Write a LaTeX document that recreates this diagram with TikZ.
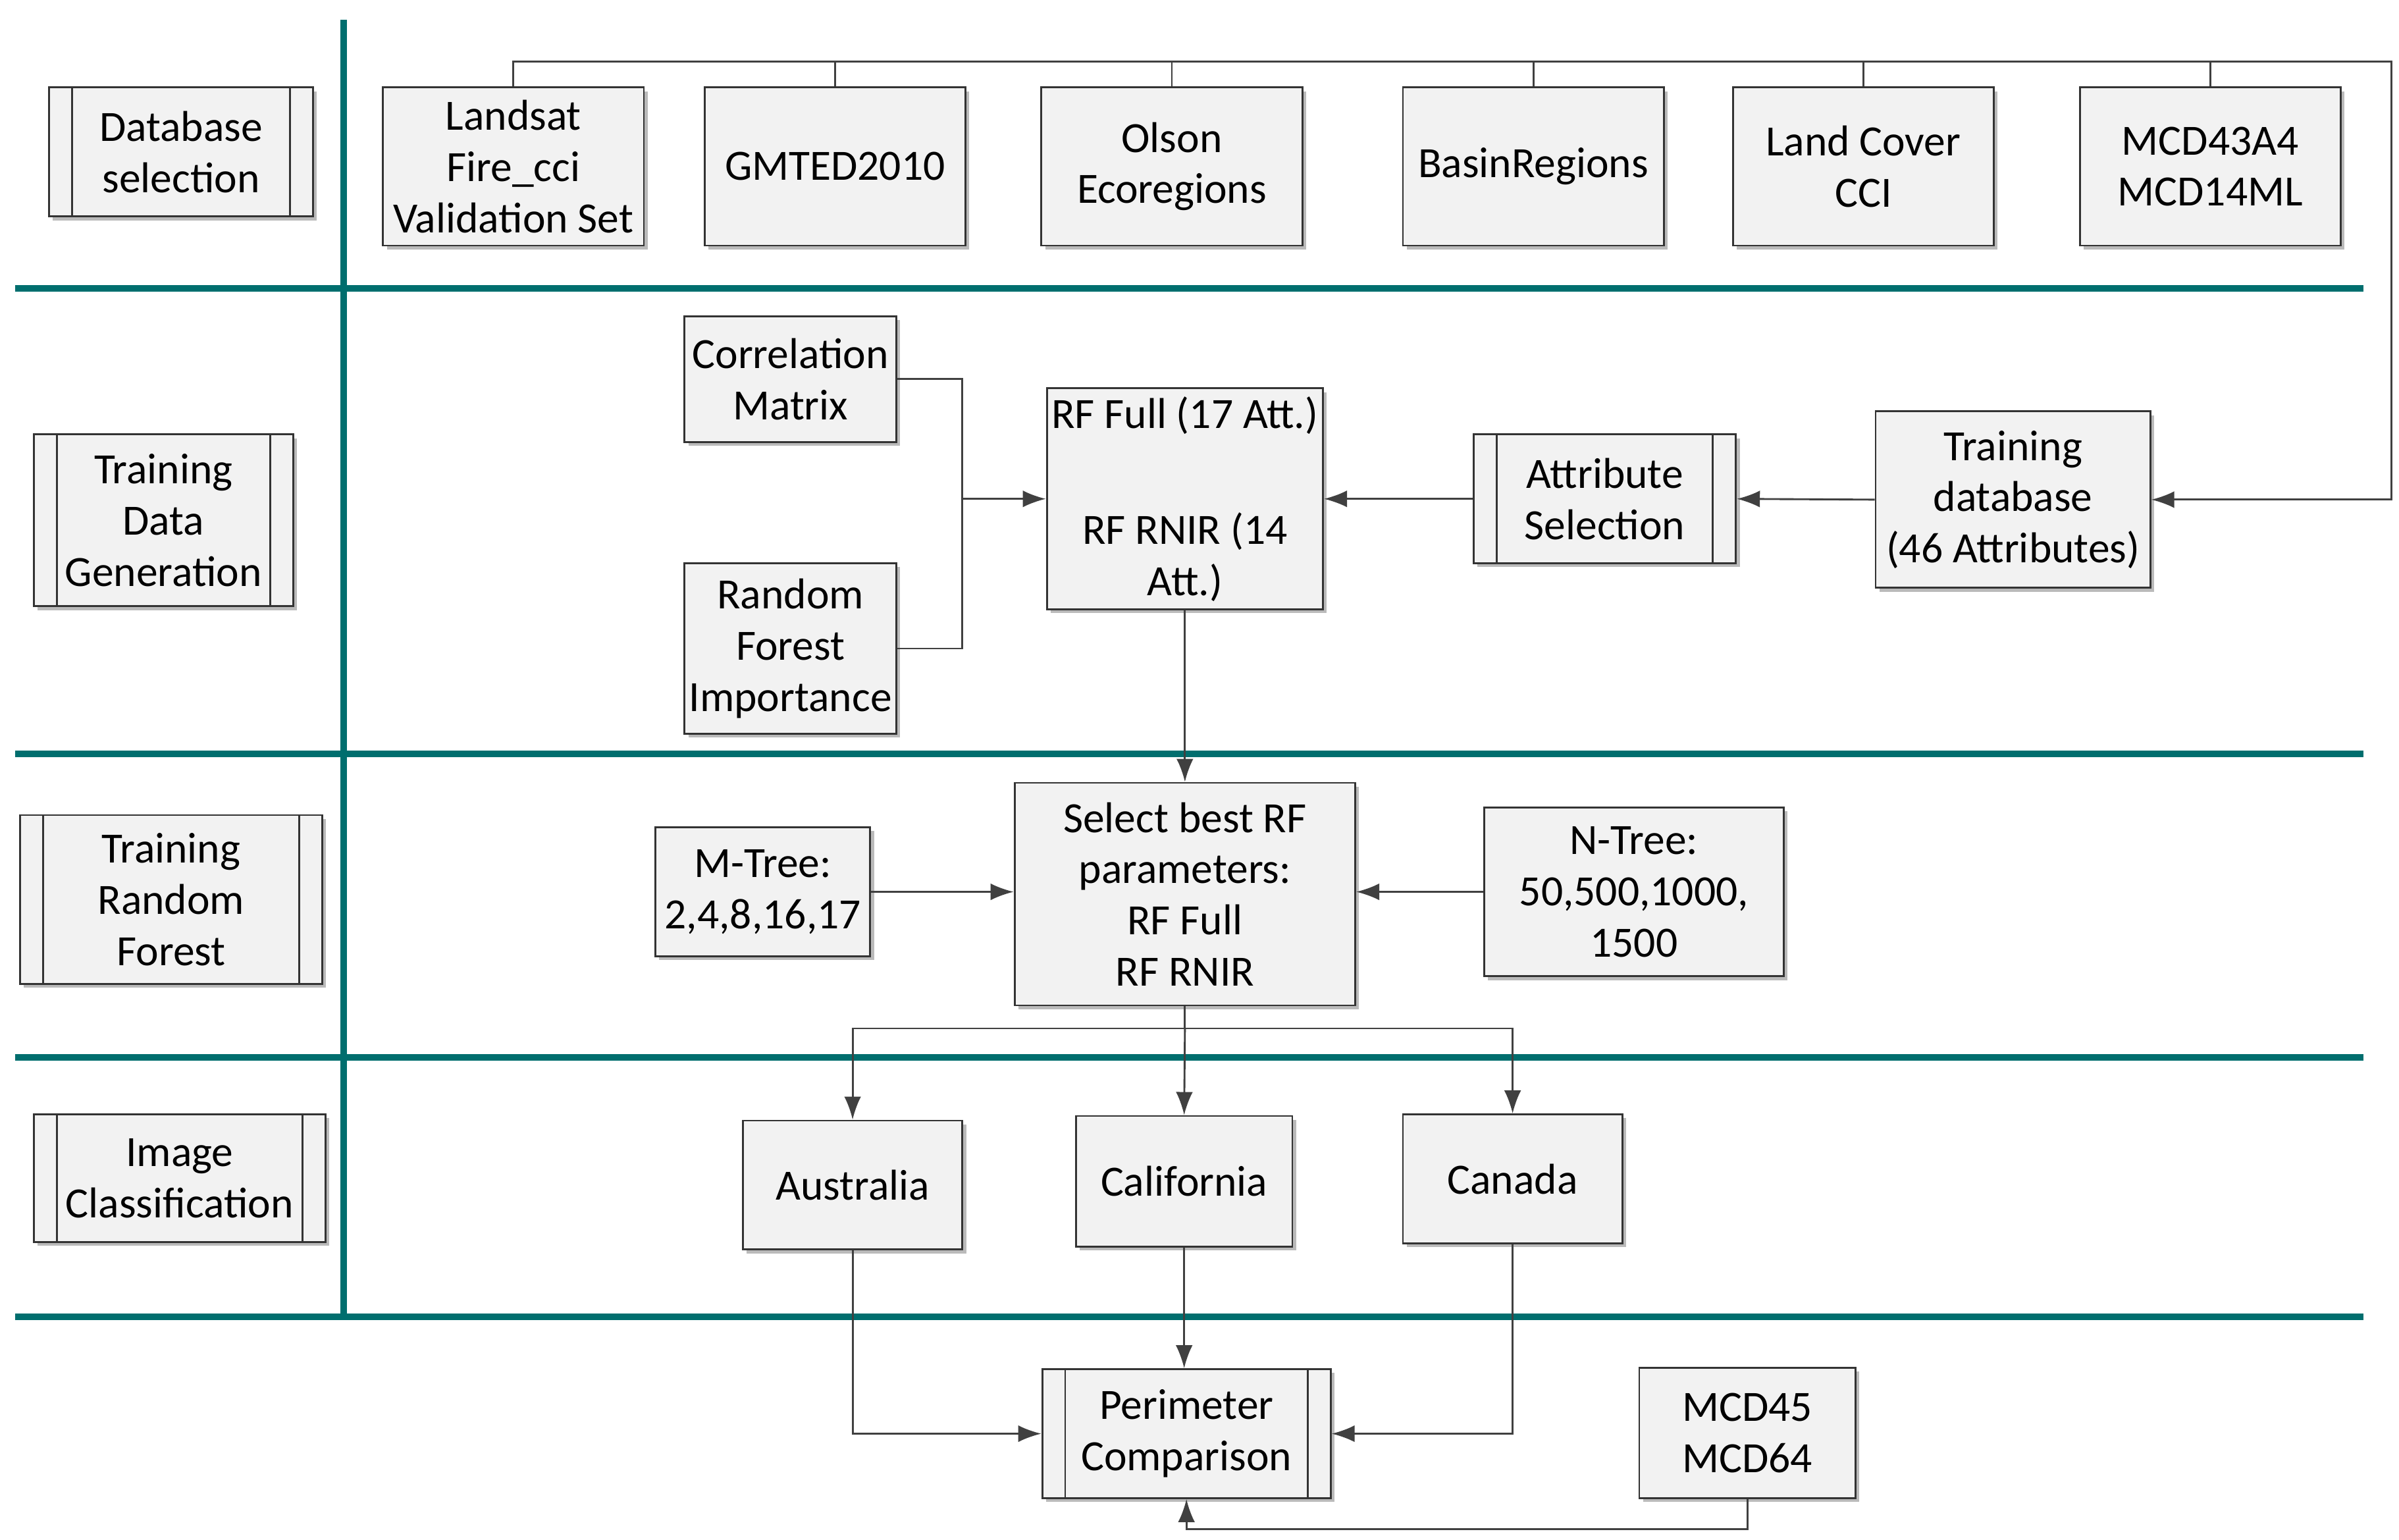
\documentclass[tikz,border=0pt]{standalone}
\usepackage{fontspec}
\setmainfont{Carlito}
\usetikzlibrary{arrows.meta,shadows}
\definecolor{lane}{RGB}{0,110,110}
\definecolor{boxfill}{RGB}{242,242,242}
\tikzset{
  box/.style={draw=black!80, fill=boxfill, line width=0.7pt, align=center, inner sep=0pt,
    drop shadow={shadow xshift=0.05cm, shadow yshift=-0.05cm, fill=black!45, opacity=0.6},
    font=\fontsize{16}{19}\selectfont},
  proc/.style={box, path picture={
    \draw[black!80, line width=0.7pt] ([xshift=0.3cm]path picture bounding box.north west) -- ([xshift=0.3cm]path picture bounding box.south west);
    \draw[black!80, line width=0.7pt] ([xshift=-0.3cm]path picture bounding box.north east) -- ([xshift=-0.3cm]path picture bounding box.south east);}},
  link/.style={draw=black!75, line width=0.7pt},
  arr/.style={link, -{Latex[length=0.3cm,width=0.22cm]}},
  sep/.style={draw=lane, line width=2.4pt}
}
\begin{document}
\begin{tikzpicture}[x=0.02cm,y=-0.02cm]
\useasboundingbox (0,0) rectangle (1563,1003);
% lanes
\foreach \y in {188,491,689,858}
  \draw[sep] (10,\y) -- (1540,\y);
\draw[sep] (224,13) -- (224,858);

% lane titles
\node[proc, minimum width=3.44cm, minimum height=1.68cm] (dbsel) at (118,99) {Database\\selection};
\node[proc, minimum width=3.38cm, minimum height=2.24cm] (tdgen) at (106.5,339) {Training\\Data\\Generation};
\node[proc, minimum width=3.94cm, minimum height=2.2cm] (trf) at (111.5,586) {Training\\Random\\Forest};
\node[proc, minimum width=3.8cm, minimum height=1.66cm] (imgcl) at (117,767.5) {Image\\Classification};

% data sources
\node[box, minimum width=3.4cm, minimum height=2.06cm] (landsat) at (334.5,108.5) {Landsat\\Fire\_cci\\Validation Set};
\node[box, minimum width=3.4cm, minimum height=2.06cm] (gmted) at (544,108.5) {GMTED2010};
\node[box, minimum width=3.4cm, minimum height=2.06cm] (olson) at (763.5,108.5) {Olson\\Ecoregions};
\node[box, minimum width=3.4cm, minimum height=2.06cm] (basin) at (999,108.5) {BasinRegions};
\node[box, minimum width=3.4cm, minimum height=2.06cm] (lccci) at (1214,108.5) {Land Cover\\CCI};
\node[box, minimum width=3.4cm, minimum height=2.06cm] (mcd43) at (1440,108.5) {MCD43A4\\MCD14ML};

% training data
\node[box, minimum width=2.76cm, minimum height=1.64cm] (corr) at (515,247) {Correlation\\Matrix};
\node[box, minimum width=2.76cm, minimum height=2.22cm] (rfimp) at (515,422.5) {Random\\Forest\\Importance};
\node[box, minimum width=3.6cm, minimum height=2.88cm] (rffull) at (772,325) {RF Full (17 Att.)\\[1.5em]RF RNIR (14\\Att.)};
\node[proc, minimum width=3.42cm, minimum height=1.68cm] (attsel) at (1045.5,325) {Attribute\\Selection};
\node[box, minimum width=3.58cm, minimum height=2.3cm] (tdb) at (1311.5,325.5) {Training\\database\\(46 Attributes)};

% random forest
\node[box, minimum width=2.8cm, minimum height=1.68cm] (mtree) at (497,581) {M-Tree:\\2,4,8,16,17};
\node[box, minimum width=4.44cm, minimum height=2.9cm] (best) at (772,582.5) {Select best RF\\parameters:\\RF Full\\RF RNIR};
\node[box, minimum width=3.9cm, minimum height=2.2cm] (ntree) at (1064.5,581) {N-Tree:\\50,500,1000,\\1500};

% classification
\node[box, minimum width=2.86cm, minimum height=1.68cm] (aus) at (555.5,772) {Australia};
\node[box, minimum width=2.82cm, minimum height=1.7cm] (cal) at (771.5,769.5) {California};
\node[box, minimum width=2.86cm, minimum height=1.68cm] (can) at (985.5,768) {Canada};

% comparison
\node[proc, minimum width=3.76cm, minimum height=1.68cm] (perim) at (773,934) {Perimeter\\Comparison};
\node[box, minimum width=2.82cm, minimum height=1.7cm] (mcd45) at (1138.5,933.5) {MCD45\\MCD64};

% connectors
\coordinate (bus) at (1558,40);
\draw[arr] (landsat.north) |- (bus) |- (tdb.east);
\foreach \n in {gmted,olson,basin,lccci,mcd43}
  \draw[link] (\n.north) -- (\n.north |- bus);
\coordinate (join) at (627,325);
\draw[link] (corr.east) -| (join) |- (rfimp.east);
\draw[arr] (join) -- (rffull.west);
\draw[arr] (tdb.west) -- (attsel.east);
\draw[arr] (attsel.west) -- (rffull.east);
\draw[arr] (rffull.south) -- (best.north);
\draw[arr] (mtree.east) -- (best.west |- mtree.east);
\draw[arr] (ntree.west) -- (best.east |- ntree.west);
\coordinate (split) at (772,670);
\draw[link] (best.south) -- (split);
\draw[arr] (split) -| (aus.north);
\draw[arr] (split) -| (can.north);
\draw[arr] (split) -- (cal.north);
\draw[arr] (aus.south) |- (perim.west);
\draw[arr] (can.south) |- (perim.east);
\draw[arr] (cal.south) -- (cal.south |- perim.north);
\coordinate (low) at (1138.5,996);
\draw[arr] (mcd45.south) -- (low) -| (perim.south);
\end{tikzpicture}
\end{document}
